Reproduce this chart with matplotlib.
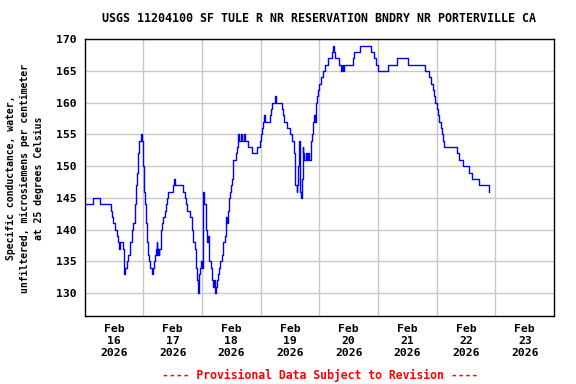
import pandas as pd
import numpy as np
import matplotlib
matplotlib.use("Agg")
import matplotlib.pyplot as plt
import matplotlib.dates as mdates

# Hours after 2026-02-16 00:00 and conductance (uS/cm)
hours = [0.0, 2.89, 3.30, 5.89, 6.30, 10.11, 10.66, 11.07, 11.75, 12.43, 13.11, 13.79, 14.20,
         14.48, 15.84, 16.25, 16.52, 17.20, 17.88, 18.56, 19.25, 19.93, 20.61, 20.90, 21.29,
         21.97, 22.38, 22.93, 23.47, 24.02, 24.29, 24.70, 25.11, 25.52, 26.06, 26.47, 26.88,
         27.42, 27.83, 28.38, 28.79, 29.20, 29.47, 29.74, 30.00, 30.29, 30.60, 31.10, 31.51,
         32.19, 32.88, 33.29, 33.83, 34.24, 36.28, 36.56, 36.96, 39.96, 40.10, 41.05, 41.46,
         41.73, 43.10, 43.78, 44.19, 45.14, 45.55, 45.82, 46.23, 46.51, 46.64, 47.19, 47.73,
         48.00, 48.28, 48.55, 48.82, 49.64, 50.19, 50.60, 51.00, 51.55, 51.96, 52.37, 52.91,
         53.19, 53.46, 53.73, 54.28, 54.68, 55.09, 55.50, 56.05, 56.46, 57.41, 57.68, 58.09,
         58.50, 58.91, 59.45, 59.73, 60.14, 60.54, 60.82, 61.77, 62.18, 62.86, 63.27, 63.82,
         64.23, 65.18, 65.59, 66.68, 68.32, 70.36, 71.72, 72.13, 72.40, 73.09, 73.36, 73.77,
         75.81, 76.22, 76.63, 77.86, 78.27, 80.58, 80.99, 81.54, 82.63, 83.99, 84.67, 85.76,
         86.17, 86.72, 86.99, 87.40, 87.81, 88.08, 88.49, 88.76, 89.17, 89.44, 89.85, 90.53,
         91.08, 91.49, 91.90, 92.44, 92.99, 93.53, 93.94, 94.35, 94.62, 95.17, 95.58, 95.98,
         96.53, 97.62, 98.30, 99.66, 101.03, 101.71, 101.98, 102.39, 104.16, 104.71, 105.12,
         105.80, 106.07, 109.61, 110.16, 112.61, 117.11, 118.34, 119.16, 119.84, 124.20,
         127.61, 132.38, 139.19, 140.96, 141.51, 142.33, 142.87, 143.28, 144.24, 144.65,
         145.05, 145.60, 146.01, 146.42, 147.10, 152.42, 153.23, 154.60, 157.32, 158.27,
         161.41, 165.50]
cond = [144, 144, 145, 145, 144, 144, 143, 142, 141, 140, 139, 138, 137,
        138, 137, 133, 134, 135, 136, 138, 140, 141, 144, 147, 149,
        152, 154, 155, 154, 150, 146, 144, 141, 138, 136, 135, 134,
        133, 134, 135, 136, 137, 138, 136, 137, 136, 137, 140, 141,
        142, 143, 144, 145, 146, 147, 148, 147, 147, 146, 145, 144,
        143, 142, 140, 138, 137, 134, 132, 131, 130, 133, 134, 135,
        134, 140, 146, 144, 140, 138, 139, 135, 134, 132, 131, 132,
        131, 130, 131, 132, 133, 134, 135, 136, 138, 139, 142, 141,
        143, 145, 146, 147, 148, 149, 151, 152, 153, 155, 154, 155,
        154, 155, 154, 153, 152, 153, 154, 155, 156, 157, 158, 157,
        158, 159, 160, 161, 160, 159, 158, 157, 156, 155, 154, 152,
        147, 146, 147, 150, 154, 146, 145, 148, 153, 152, 151, 152,
        151, 152, 151, 154, 155, 157, 158, 157, 160, 161, 162, 163,
        164, 165, 166, 167, 168, 169, 168, 167, 166, 165, 166,
        165, 166, 167, 168, 169, 168, 167, 166, 165, 166,
        167, 166, 165, 164, 163, 162, 161, 160, 159, 158,
        157, 156, 155, 154, 153, 152, 151, 150, 149, 148,
        147, 146]

start = pd.Timestamp("2026-02-16")
times = start + pd.to_timedelta(hours, unit="h")
day_labels = ["Feb\n16\n2026", "Feb\n17\n2026", "Feb\n18\n2026", "Feb\n19\n2026",
              "Feb\n20\n2026", "Feb\n21\n2026", "Feb\n22\n2026", "Feb\n23\n2026"]
yticks = [130, 135, 140, 145, 150, 155, 160, 165, 170]

mono = "DejaVu Sans Mono"
fig = plt.figure(figsize=(5.76, 3.84), dpi=100)
ax = fig.add_axes([0.147, 0.177, 0.815, 0.721])

ax.plot(times, cond, color="#0000ff", lw=1.0, drawstyle="steps-post")

ax.set_xlim(start, start + pd.Timedelta(days=8))
ax.set_ylim(126.4, 170)

noon = [start + pd.Timedelta(hours=12 + 24 * i) for i in range(len(day_labels))]
midnight = [start + pd.Timedelta(days=i) for i in range(1, 8)]
ax.set_xticks(noon)
ax.set_xticklabels(day_labels)
ax.set_xticks(midnight, minor=True)
ax.set_yticks(yticks)
ax.set_yticklabels([str(v) for v in yticks])

ax.grid(False, which="major", axis="x")
ax.grid(True, which="minor", axis="x", color="#c8c8c8", lw=1.0)
ax.grid(True, which="major", axis="y", color="#c8c8c8", lw=1.0)
ax.set_axisbelow(True)

ax.tick_params(axis="both", which="both", length=0)
ax.tick_params(axis="x", pad=6)
ax.tick_params(axis="y", pad=6)
for lbl in ax.get_xticklabels():
    lbl.set_fontfamily(mono)
    lbl.set_fontweight("bold")
    lbl.set_fontsize(8.2)
    lbl.set_linespacing(1.2)
for lbl in ax.get_yticklabels():
    lbl.set_fontfamily(mono)
    lbl.set_fontweight("bold")
    lbl.set_fontsize(8.2)

for s in ax.spines.values():
    s.set_linewidth(1.0)
    s.set_color("black")

fig.text(0.553, 1 - 19 / 384, "USGS 11204100 SF TULE R NR RESERVATION BNDRY NR PORTERVILLE CA",
         ha="center", va="center", fontsize=8.4, fontweight="bold", family=mono)
fig.text(25 / 576, 1 - 178 / 384,
         "Specific conductance, water,\nunfiltered, microsiemens per centimeter\nat 25 degrees Celsius",
         ha="center", va="center", rotation=90, fontsize=7.0, fontweight="bold",
         family=mono, linespacing=1.5, multialignment="center")
fig.text(0.555, 1 - 375 / 384, "---- Provisional Data Subject to Revision ----",
         ha="center", va="center", fontsize=8.3, fontweight="bold", family=mono, color="red")

fig.savefig("out.png", dpi=100)
